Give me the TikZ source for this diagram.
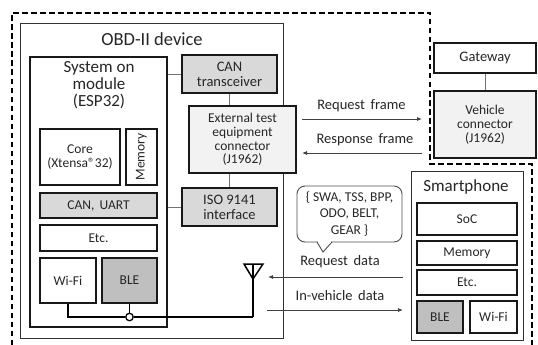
\documentclass[tikz,border=0pt]{standalone}
\usepackage{fontspec}
\setmainfont{Carlito}
\usetikzlibrary{arrows.meta}
\definecolor{txt}{HTML}{262626}
\definecolor{gA}{HTML}{D9D9D9}
\definecolor{gB}{HTML}{BFBFBF}
\definecolor{gC}{HTML}{F2F2F2}
\tikzset{
  bx/.style={draw=black!90, line width=1.6pt, align=center, inner sep=0pt, text=txt,
    font=\fontsize{13.5}{13.8}\selectfont},
  bigf/.style={font=\fontsize{14.5}{15}\selectfont},
  thinbx/.style={draw=black!80, line width=0.9pt, inner sep=0pt},
  conn/.style={draw=black!55, line width=0.9pt},
  arr/.style={draw=black!75, line width=0.8pt, -{Latex[length=5pt,width=4pt]}},
  lbl/.style={text=txt, inner sep=0pt, font=\fontsize{14.5}{15}\selectfont},
  wire/.style={draw=black, line width=1.5pt},
  boundary/.style={draw=black, line width=1.3pt, dash pattern=on 5.5pt off 3.5pt}
}
\begin{document}
\begin{tikzpicture}[x=1pt,y=-1pt]
\useasboundingbox (0,0) rectangle (538,345);
% dashed boundary
\draw[boundary] (12,345) -- (12,13) -- (430,13) -- (430,164) -- (532,164) -- (532,345);
% OBD-II device
\node[thinbx, minimum width=263, minimum height=315] (obd) at (151.5,180.5) {};
\node[lbl, font=\fontsize{18.5}{19}\selectfont] (obdt) at (152,39) {OBD-II device};
% SoM
\node[bx, minimum width=137, minimum height=270] (som) at (98.5,192) {};
\node[lbl, align=center, font=\fontsize{17}{17}\selectfont] (somt) at (99,85) {System on\\module\\(ESP32)};
\node[bx, minimum width=80, minimum height=56] (core) at (80,157) {Core\\(Xtensa®32)};
\node[bx, minimum width=31, minimum height=56] (mem1) at (141.5,157) {};
\node[text=txt, rotate=90, inner sep=0pt, font=\fontsize{13.5}{14}\selectfont] (mem1t) at (mem1) {Memory};
\node[bx, fill=gA, minimum width=117, minimum height=25] (canuart) at (98.5,205.5) {CAN,\, UART};
\node[bx, minimum width=117, minimum height=26] (etc1) at (98.5,238) {Etc.};
\node[bx, minimum width=56, minimum height=45] (wifi1) at (68,280.5) {Wi-Fi};
\node[bx, fill=gB, minimum width=55, minimum height=45] (ble1) at (129.5,280.5) {BLE};
% OBD interfaces
\node[bx, bigf, fill=gA, minimum width=95, minimum height=38] (cantr) at (229.5,74) {CAN\\transceiver};
\node[bx, fill=gC, minimum width=107, minimum height=67] (ete) at (242.5,139.5) {External test\\equipment\\connector\\(J1962)};
\node[bx, bigf, fill=gA, minimum width=95, minimum height=38] (iso) at (229.5,207) {ISO 9141\\interface};
\draw[conn] (som.east |- cantr.west) -- (cantr.west);
\draw[conn] (som.east |- iso.west) -- (iso.west);
\draw[conn] (cantr.south) -- (cantr.south |- ete.north);
\draw[conn] (ete.south -| iso.north) -- (iso.north);
% vehicle side
\node[bx, bigf, minimum width=102, minimum height=30] (gw) at (485,58) {Gateway};
\node[bx, fill=gC, minimum width=102, minimum height=67] (vc) at (485,124.5) {Vehicle\\connector\\(J1962)};
\draw[conn] (gw.south) -- (vc.north);
% frames
\coordinate (rqa) at (302,119);
\coordinate (rqb) at (422,119);
\coordinate (rsa) at (422,153);
\coordinate (rsb) at (302,153);
\draw[arr] (rqa) -- (rqb);
\draw[arr] (rsa) -- (rsb);
\node[lbl] (rqt) at (361.5,105.5) {Request\, frame};
\node[lbl] (rst) at (365,139.5) {Response\, frame};
% smartphone
\node[thinbx, minimum width=112, minimum height=169] (ph) at (467,255.5) {};
\node[lbl, font=\fontsize{17}{17}\selectfont] (pht) at (466,187) {Smartphone};
\node[bx, minimum width=100, minimum height=32] (soc) at (467,219) {SoC};
\node[bx, minimum width=100, minimum height=24] (mem2) at (467,253) {Memory};
\node[bx, minimum width=100, minimum height=25] (etc2) at (467,282.5) {Etc.};
\node[bx, fill=gB, minimum width=46, minimum height=32] (ble2) at (440,317) {BLE};
\node[bx, minimum width=47, minimum height=32] (wifi2) at (493.5,317) {Wi-Fi};
% antenna and wiring
\coordinate (anttop) at (253,264);
\coordinate (antbot) at (253,317);
\draw[line width=1.5pt, line join=miter] (244,264) -- (263,264) -- (253,279) -- cycle;
\draw[wire] (anttop) -- (antbot);
\node[circle, draw=black, fill=white, line width=1.3pt, inner sep=0pt, minimum size=7.5pt] (jn) at (129.5,317) {};
\draw[wire] (wifi1.south) |- (jn.west);
\draw[wire] (ble1.south) -- (jn.north);
\draw[wire] (jn.east) -- (antbot);
% data arrows
\coordinate (rda) at (403,277);
\coordinate (rdb) at (268,277);
\coordinate (iva) at (267,310);
\coordinate (ivb) at (403,310);
\draw[arr] (rda) -- (rdb);
\draw[arr] (iva) -- (ivb);
\node[lbl] (rdt) at (340,262) {Request\, data};
\node[lbl] (ivt) at (340,296) {In-vehicle\, data};
% callout
\node[draw=black!70, line width=0.9pt, rounded corners=8pt, minimum width=105, minimum height=56,
  align=center, text=txt, inner sep=0pt, font=\fontsize{13.5}{16.5}\selectfont] (call) at (349.5,214)
  {\{ SWA, TSS, BPP,\\ODO, BELT,\\GEAR \}};
\draw[draw=black!70, line width=0.9pt, fill=white, line join=miter] (317,242) -- (323,252) -- (332,242);
\draw[white, line width=1.4pt] (318.2,242) -- (330.8,242);
\end{tikzpicture}
\end{document}
